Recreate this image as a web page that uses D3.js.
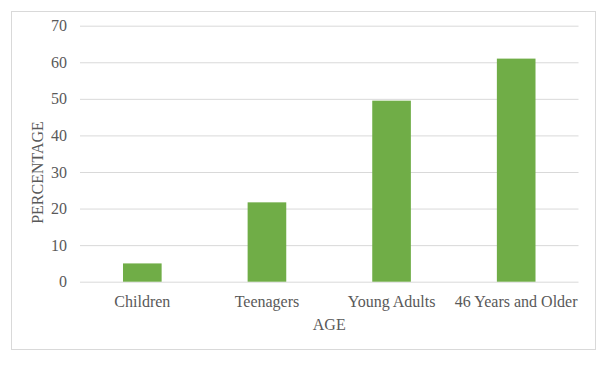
<!DOCTYPE html>
<html><head><meta charset="utf-8">
<script src="https://cdn.jsdelivr.net/npm/d3@7/dist/d3.min.js"></script>
<style>
html,body{margin:0;padding:0;background:#fff;}
svg{display:block;}
text{font-family:"Liberation Serif","Times New Roman",serif;fill:#595959;}
</style></head>
<body>
<script>
const categories = ["Children", "Teenagers", "Young Adults", "46 Years and Older"];
const values = [5, 21.7, 49.5, 61];
const yTicks = [0, 10, 20, 30, 40, 50, 60, 70];
const xTitle = "AGE";
const yTitle = "PERCENTAGE";

const W = 606, H = 366;
const svg = d3.select("body").append("svg").attr("width", W).attr("height", H);

svg.append("rect").attr("x", 11.5).attr("y", 11.5).attr("width", 584).attr("height", 338)
  .attr("fill", "#fff").attr("stroke", "#d9d9d9").attr("stroke-width", 1);

const x0 = 80, x1 = 578.5, yTop = 25.7, yBot = 281.7;
const x = d3.scaleBand().domain(categories).range([x0, x1]).paddingInner(0.69).paddingOuter(0.345);
const y = d3.scaleLinear().domain([0, 70]).range([yBot, yTop]);

const yAxis = d3.axisLeft(y).tickValues(yTicks).tickSize(-(x1 - x0)).tickPadding(13);
const gy = svg.append("g").attr("transform", `translate(${x0},0)`).call(yAxis);
gy.select(".domain").remove();
gy.selectAll(".tick line").attr("stroke", "#d9d9d9").attr("stroke-width", 1);
gy.selectAll(".tick text").attr("font-size", 16).style("fill", "#595959")
  .attr("font-family", "Liberation Serif");

svg.append("g").selectAll("rect").data(values).join("rect")
  .attr("x", (d, i) => x(categories[i]))
  .attr("width", x.bandwidth())
  .attr("y", d => y(d))
  .attr("height", d => y(0) - y(d))
  .attr("fill", "#70ad47");

const xAxis = d3.axisBottom(x).tickSize(0).tickPadding(13.5);
const gx = svg.append("g").attr("transform", `translate(0,${yBot})`).call(xAxis);
gx.select(".domain").remove();
gx.selectAll(".tick text").attr("font-size", 16).style("fill", "#595959")
  .attr("font-family", "Liberation Serif");

svg.append("text").attr("x", (x0 + x1) / 2).attr("y", 330).attr("text-anchor", "middle")
  .attr("font-size", 16).text(xTitle);

svg.append("text").attr("transform", `translate(43,172.5) rotate(-90)`).attr("text-anchor", "middle")
  .attr("font-size", 16).text(yTitle);
</script>
</body></html>
